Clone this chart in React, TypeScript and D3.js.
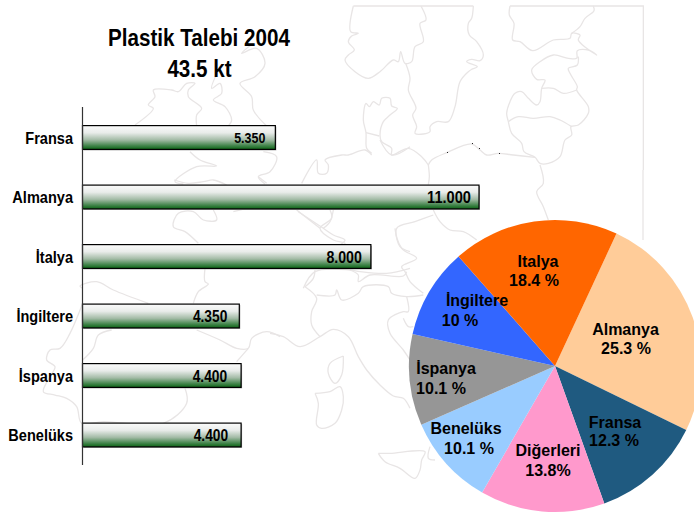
import React from "react";
import * as d3 from "d3";

// Demand per country, in tonnes
const barCategories = ["Fransa", "Almanya", "İtalya", "İngiltere", "İspanya", "Benelüks"];
const barValues = [5350, 11000, 8000, 4350, 4400, 4400];
const barValueLabels = ["5.350", "11.000", "8.000", "4.350", "4.400", "4.400"];

// Share per country, clockwise from the Almanya slice
const pieCategories = ["Almanya", "Fransa", "Diğerleri", "Benelüks", "İspanya", "İngiltere", "Italya"];
const pieValues = [25.3, 12.3, 13.8, 10.1, 10.1, 10, 18.4];
const pieValueLabels = ["25.3 %", "12.3 %", "13.8%", "10.1 %", "10.1 %", "10 %", "18.4 %"];

const titleLines = ["Plastik Talebi 2004", "43.5 kt"];

// Styling tables kept apart from the values
const pieColors = ["#ffcc99", "#1f5a80", "#ff99cc", "#99ccff", "#969696", "#3366ff", "#ff6600"];
const barLabelFontSizes = [14.5, 17, 16.5, 16, 16, 16];
const barLabelInsets = [10, 8, 9, 12, 14, 13];
const pieNameAnchors: [number, number][] = [[625.5, 335], [615, 428], [548, 456], [466, 434], [446, 374], [477, 306], [538, 267]];
const pieValueAnchors: [number, number][] = [[626, 354], [614, 446], [548, 476], [469, 454], [441, 394], [460, 326], [534, 286]];

type Pt = [number, number];
// Map outlines are noted relative to a local origin, at three times the drawn size
const at = (ox: number, oy: number, pts: Pt[]): Pt[] => pts.map(([x, y]) => [ox + x / 3, oy + y / 3]);

const frameLines: Pt[][] = [
  at(340, 0, [[40, 18], [400, 18]]),
  at(340, 0, [[510, 18], [910, 18], [910, 510]]),
  [[643, 170], [643, 240]],
];

const coastLines: Pt[][] = [
  // Norway
  at(340, 0, [[40, 18], [32, 95], [55, 100], [35, 108], [25, 125], [43, 150], [25, 165], [15, 180], [45, 215], [85, 235], [120, 215], [160, 180], [175, 185], [182, 155], [195, 190], [215, 185], [225, 140], [250, 125], [240, 70], [258, 60], [243, 18]]),
  // Sweden
  at(340, 0, [[400, 18], [395, 55], [385, 70], [388, 105], [410, 125], [430, 165], [420, 182], [395, 178], [380, 185], [412, 200], [395, 208], [385, 215], [360, 245], [345, 320], [325, 365], [290, 365], [270, 380], [270, 395], [250, 402], [225, 400], [230, 380], [218, 345], [228, 325], [205, 270], [210, 235], [197, 190]]),
  // Finland and the Baltic states
  at(340, 0, [[510, 18], [508, 45], [522, 70], [518, 120], [540, 125], [578, 152], [640, 120], [690, 115], [695, 100], [720, 105], [715, 120], [740, 145], [770, 165], [745, 150], [712, 152], [710, 175], [685, 175], [640, 165], [600, 185], [575, 210], [590, 238], [615, 240], [605, 265], [600, 305], [590, 315], [565, 295], [545, 275], [525, 280], [510, 305], [500, 340], [505, 365], [515, 400], [545, 430], [552, 455], [585, 472], [600, 490], [625, 490], [660, 470], [675, 420], [695, 405], [693, 380], [715, 375], [745, 340], [745, 320], [710, 270], [712, 260], [690, 220], [685, 205], [712, 195], [715, 170]]),
  at(340, 0, [[760, 18], [762, 32], [735, 55], [720, 80], [695, 100]]),
  at(340, 0, [[605, 265], [640, 265], [670, 280], [710, 270]]),
  at(340, 0, [[505, 365], [535, 350], [580, 355], [630, 350], [660, 360], [695, 380]]),
  // Southern Baltic shore and Denmark
  at(340, 0, [[265, 495], [275, 480], [320, 458], [395, 432], [420, 450], [440, 465], [475, 460], [520, 465], [585, 472]]),
  at(340, 0, [[95, 460], [80, 445], [78, 398], [70, 360], [78, 310], [88, 320], [100, 305], [118, 315], [125, 295], [150, 295], [155, 318], [172, 325], [150, 345], [130, 365], [120, 405], [125, 425], [155, 445], [155, 465], [205, 445], [245, 470], [265, 495]]),
  at(340, 0, [[78, 398], [118, 408]]),
  // Eastern borders
  at(290, 150, [[415, 45], [418, 80], [415, 104]]),
  at(290, 150, [[750, 45], [760, 100], [740, 125], [760, 170], [775, 210]]),
  at(290, 150, [[430, 180], [450, 215], [480, 240], [520, 245], [560, 270]]),
  at(290, 150, [[430, 195], [375, 215], [320, 235], [335, 295], [380, 325], [335, 350], [345, 365], [360, 395], [400, 430]]),
  at(290, 150, [[120, 180], [125, 205], [90, 235], [130, 270], [165, 280], [150, 292]]),
  at(290, 150, [[20, 180], [90, 235]]),
  // North Sea shore of Germany and the Netherlands
  at(70, 140, [[695, 130], [740, 60], [745, 100], [770, 100], [775, 75], [765, 60], [815, 45], [835, 45], [885, 30], [905, 45]]),
  at(70, 140, [[930, 0], [965, 45], [1020, 20]]),
  // Britain and Ireland
  at(110, 40, [[75, 255], [130, 205], [115, 195], [135, 170], [130, 150], [185, 150], [205, 155], [230, 130], [255, 130], [235, 150], [235, 170], [275, 205], [260, 225], [260, 258]]),
  at(110, 40, [[430, 10], [395, 40], [440, 25], [465, 70], [435, 110], [390, 130], [425, 170], [430, 210], [470, 258]]),
  at(110, 40, [[330, 80], [305, 145], [330, 130], [335, 160], [310, 180], [345, 200], [365, 240], [355, 258]]),
  at(110, 40, [[240, 335], [270, 360], [320, 378], [260, 380], [195, 425], [220, 432]]),
  at(110, 40, [[460, 335], [500, 350], [480, 395], [445, 410], [465, 432]]),
  at(70, 140, [[312, 120], [355, 130], [400, 125], [430, 120], [470, 135]]),
  at(70, 140, [[565, 110], [590, 130]]),
  // Low Countries and northern France
  at(70, 140, [[430, 210], [440, 240], [400, 240], [370, 215], [325, 220], [310, 260], [345, 275], [385, 310]]),
  at(70, 140, [[490, 215], [530, 205]]),
  at(70, 140, [[685, 215], [760, 265], [790, 285], [825, 300], [810, 315]]),
  at(70, 140, [[790, 210], [780, 245], [760, 265]]),
  at(70, 140, [[405, 385], [405, 425], [415, 432], [385, 455], [370, 490]]),
  // Alps
  at(70, 140, [[700, 445], [735, 395], [840, 390], [870, 395], [950, 400], [1020, 385]]),
  at(70, 140, [[975, 265], [990, 320], [1020, 335]]),
  at(270, 270, [[105, 50], [130, 25], [135, 0]]),
  at(270, 270, [[105, 50], [140, 85], [125, 125], [125, 165], [150, 200]]),
  at(270, 270, [[140, 75], [195, 75], [200, 60], [215, 90], [265, 70], [280, 50], [355, 50], [365, 70], [410, 80], [460, 75]]),
  at(270, 270, [[240, 0], [265, 15], [265, 35], [300, 15], [400, 18], [410, 5]]),
  // Italy and the islands
  at(270, 270, [[0, 190], [40, 200], [90, 230], [150, 200], [190, 178], [235, 200], [265, 260], [290, 300], [330, 345], [370, 378], [400, 385], [420, 415]]),
  at(270, 270, [[410, 80], [415, 125], [400, 125], [355, 150], [360, 190], [400, 240], [420, 270]]),
  at(270, 270, [[400, 145], [415, 170], [430, 170]]),
  at(270, 270, [[220, 258], [180, 280], [175, 310], [195, 340], [215, 315], [220, 258]]),
  at(270, 270, [[135, 370], [180, 365], [210, 350], [220, 380], [215, 420], [195, 460], [155, 475], [140, 465], [145, 400], [135, 370]]),
  at(270, 270, [[325, 550], [360, 550], [465, 545], [455, 570], [450, 600], [435, 625], [390, 595], [345, 575], [325, 550]]),
  at(270, 270, [[480, 530], [475, 565], [495, 570]]),
  // Iberia and the Bay of Biscay
  at(30, 270, [[158, 55], [150, 48], [200, 35], [250, 60], [355, 100]]),
  at(30, 270, [[158, 100], [120, 190], [90, 235], [60, 240], [50, 270], [75, 290], [60, 320], [40, 365], [75, 375], [110, 385], [140, 410], [155, 460], [220, 455], [400, 460], [470, 400], [465, 355]]),
  at(30, 270, [[158, 270], [190, 235], [205, 195], [245, 180]]),
  at(30, 270, [[500, 180], [570, 210], [620, 235], [655, 235], [665, 205], [710, 185], [750, 200]]),
  at(30, 270, [[655, 235], [620, 275]]),
];

// Stray specks along the Baltic shore
const specks: Pt[] = [[447, 152], [472, 143], [479, 148], [499, 153]];

const WIDTH = 694;
const HEIGHT = 514;
const FONT = "'Liberation Sans', Arial, sans-serif";
const NARROW = 0.86;
const NAME_NARROW = 0.91;

export default function App() {
  const x = d3.scaleLinear().domain([0, 11000]).range([82.5, 479]);
  const y = d3.scaleBand<string>().domain(barCategories).range([107.75, 464.75]).paddingInner(0.6).paddingOuter(0.3);

  const outline = d3.line<Pt>().curve(d3.curveCatmullRom.alpha(0.5));
  const straight = d3.line<Pt>();

  const cx = 555;
  const cy = 366;
  const radius = 146;
  const startAngle = (24.9 * Math.PI) / 180;
  const slices = d3
    .pie<number>()
    .sort(null)
    .startAngle(startAngle)
    .endAngle(startAngle + 2 * Math.PI)(pieValues);
  const arc = d3.arc<d3.PieArcDatum<number>>().innerRadius(0).outerRadius(radius);

  return (
    <svg
      width={WIDTH}
      height={HEIGHT}
      viewBox={`0 0 ${WIDTH} ${HEIGHT}`}
      style={{ position: "absolute", left: 0, top: 0, display: "block", background: "#fff" }}
    >
      <defs>
        <linearGradient id="barFill" x1="0" y1="0" x2="0" y2="1">
          <stop offset="0" stopColor="#fbfbfb" />
          <stop offset="0.3" stopColor="#e9ecea" />
          <stop offset="0.6" stopColor="#a3bba6" />
          <stop offset="0.85" stopColor="#3f8348" />
          <stop offset="1" stopColor="#0b6414" />
        </linearGradient>
      </defs>

      <g fill="none" stroke="#e8e5e5" strokeWidth={1.3}>
        {frameLines.map((d, i) => (
          <path key={i} d={straight(d) ?? ""} />
        ))}
        {coastLines.map((d, i) => (
          <path key={i} d={outline(d) ?? ""} />
        ))}
      </g>
      {specks.map(([sx, sy], i) => (
        <rect key={i} x={sx} y={sy} width={1} height={1} fill="#222" />
      ))}

      <g fontFamily={FONT} fontWeight="bold" fill="#000" textAnchor="middle">
        <text transform={`translate(199,45.5) scale(${NARROW},1)`} fontSize={24}>{titleLines[0]}</text>
        <text transform={`translate(199.5,76.5) scale(${NARROW},1)`} fontSize={24}>{titleLines[1]}</text>
      </g>

      {barCategories.map((name, i) => {
        const top = y(name) ?? 0;
        const h = y.bandwidth();
        const w = x(barValues[i]) - x(0);
        const mid = top + h / 2;
        return (
          <g key={name} fontFamily={FONT} fontWeight="bold" fill="#000">
            <rect x={x(0) + 1} y={top + 1} width={w} height={h} fill="#a8a8a8" />
            <rect x={x(0)} y={top} width={w} height={h} fill="url(#barFill)" stroke="#000" strokeWidth={1.2} />
            <text transform={`translate(73,${mid + 6}) scale(${NAME_NARROW},1)`} textAnchor="end" fontSize={16}>
              {name}
            </text>
            <text
              transform={`translate(${x(barValues[i]) - barLabelInsets[i]},${mid + barLabelFontSizes[i] * 0.38}) scale(${NARROW},1)`}
              textAnchor="end"
              fontSize={barLabelFontSizes[i]}
            >
              {barValueLabels[i]}
            </text>
          </g>
        );
      })}
      <line x1={x(0)} x2={x(0)} y1={107} y2={465} stroke="#333" strokeWidth={1.2} />

      <g transform={`translate(${cx},${cy})`}>
        {slices.map((s, i) => (
          <path key={pieCategories[i]} d={arc(s) ?? ""} fill={pieColors[i]} />
        ))}
      </g>
      <g fontFamily={FONT} fontWeight="bold" fontSize={16} fill="#000" textAnchor="middle">
        {pieCategories.map((name, i) => (
          <React.Fragment key={name}>
            <text x={pieNameAnchors[i][0]} y={pieNameAnchors[i][1]}>{name}</text>
            <text x={pieValueAnchors[i][0]} y={pieValueAnchors[i][1]}>{pieValueLabels[i]}</text>
          </React.Fragment>
        ))}
      </g>
    </svg>
  );
}
